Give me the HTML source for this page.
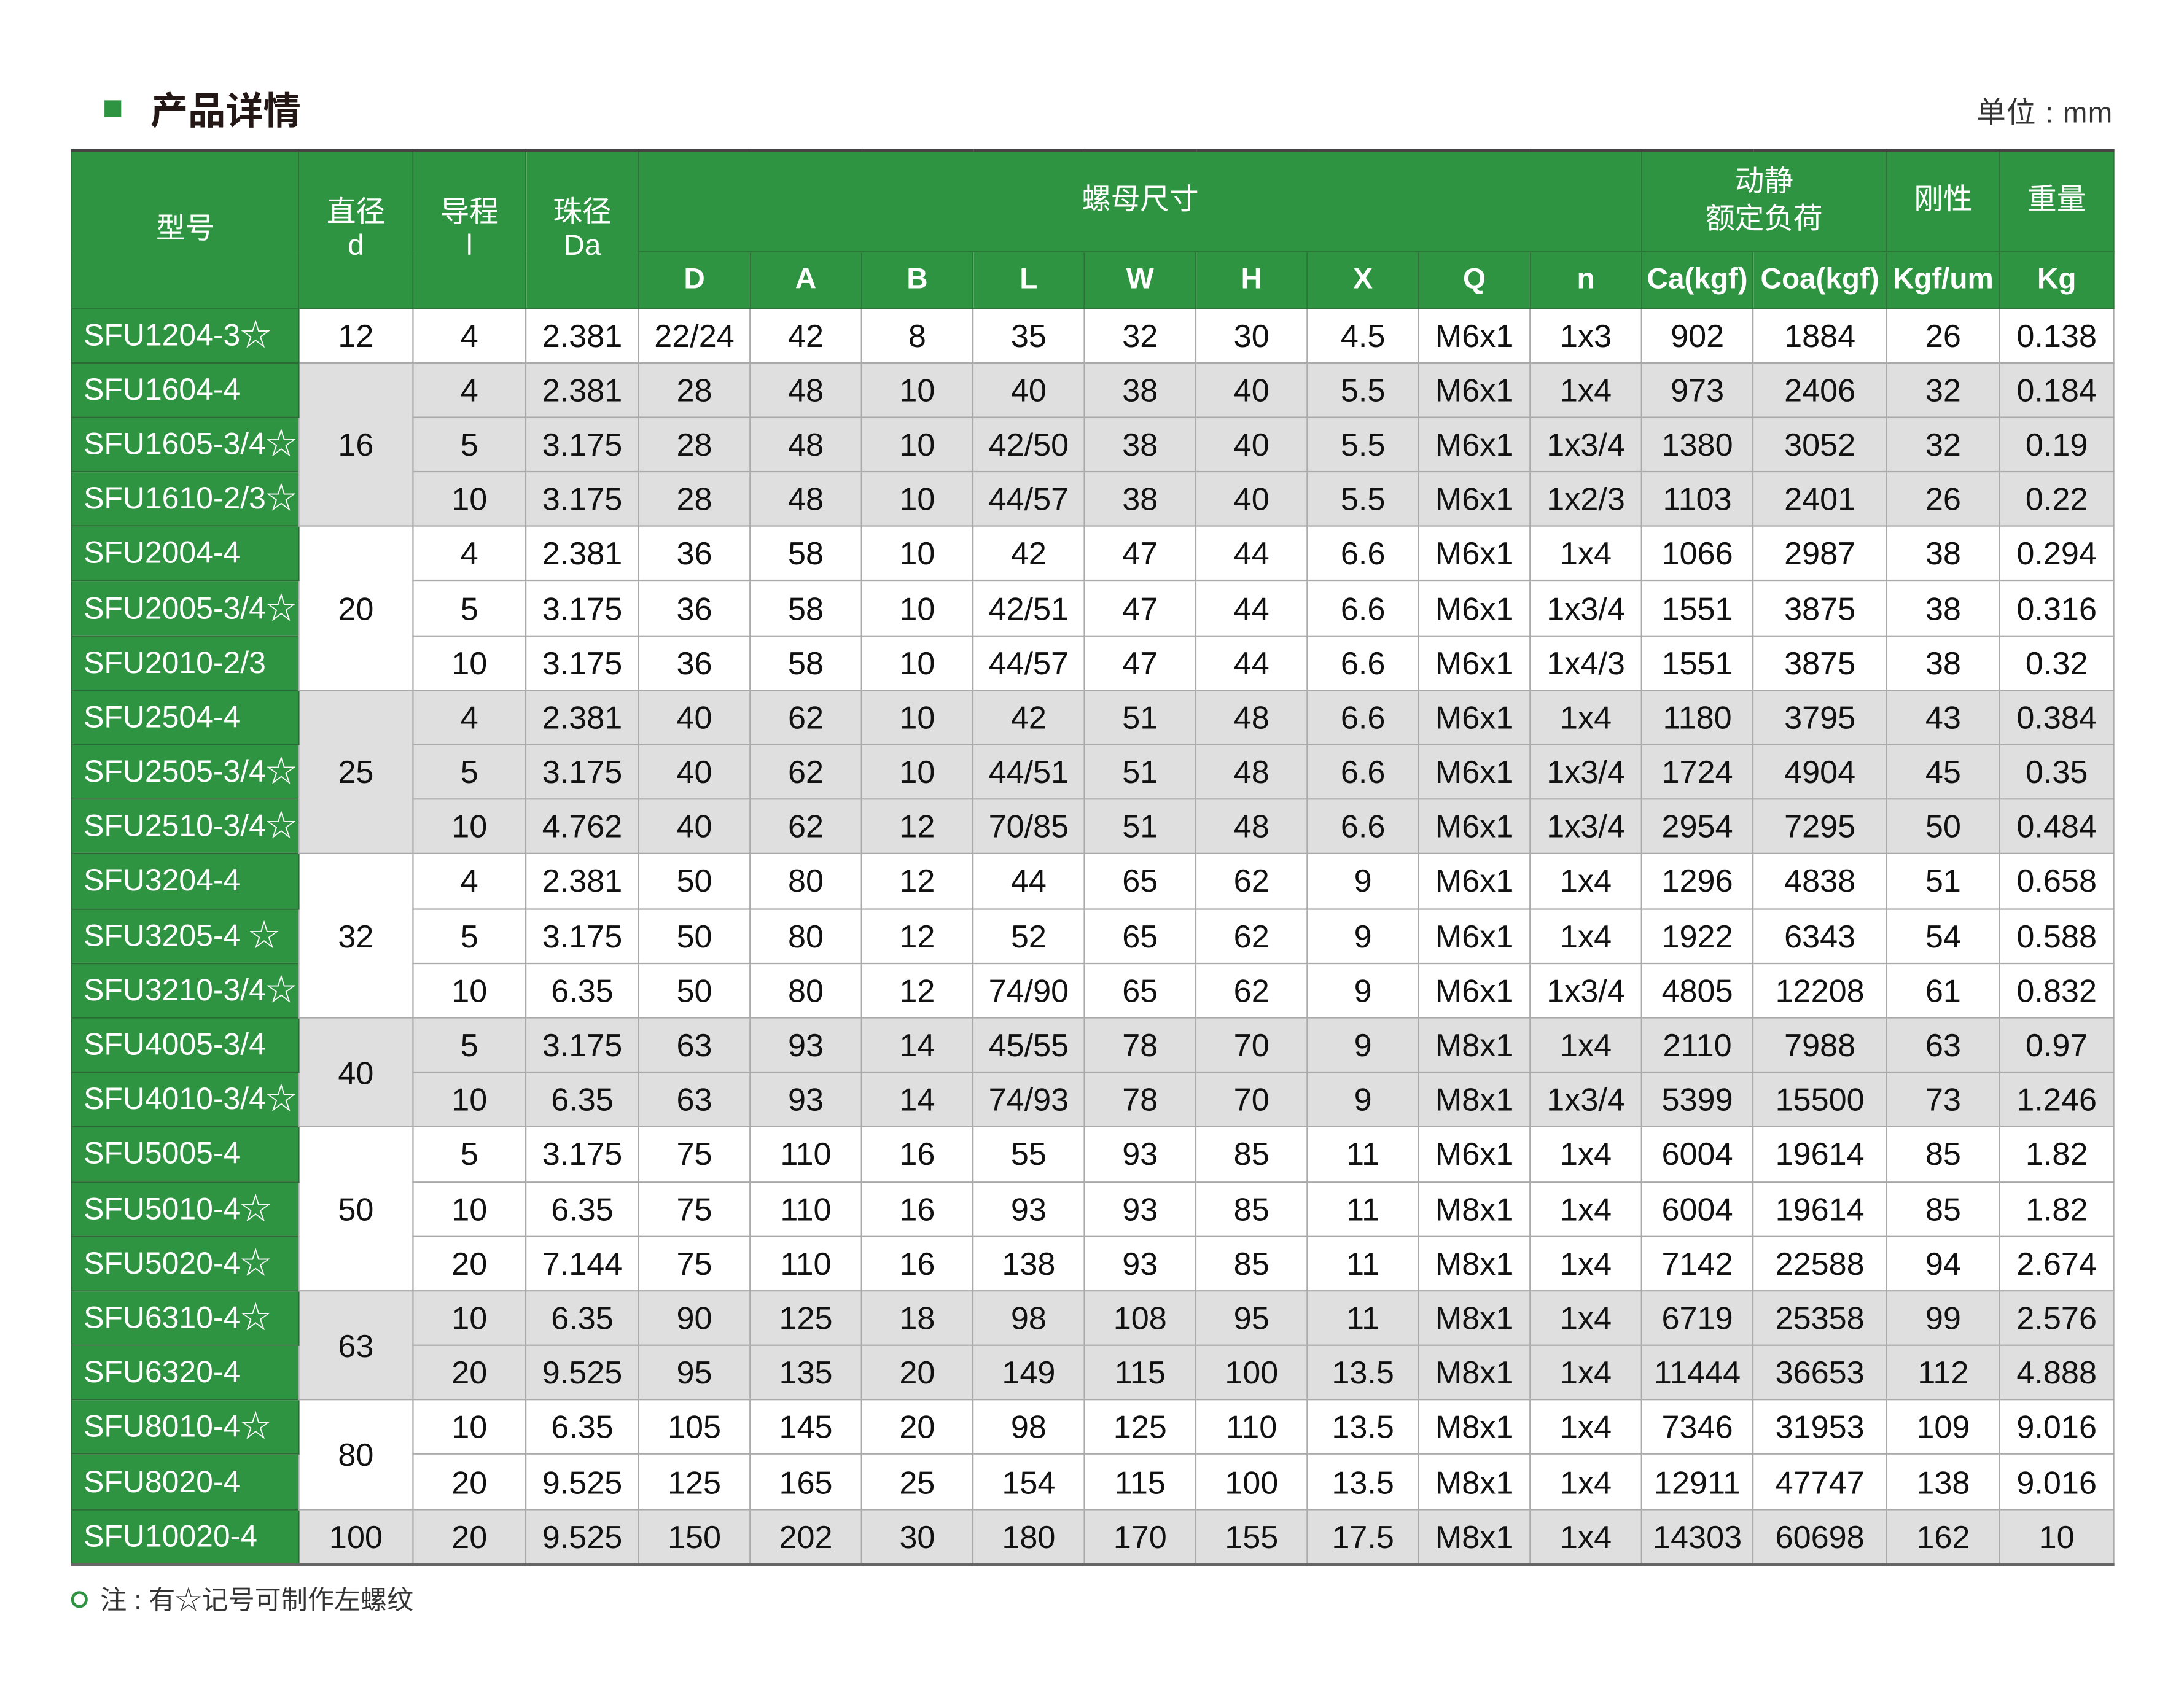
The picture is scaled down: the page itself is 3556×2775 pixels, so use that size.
<!DOCTYPE html>
<html><head><meta charset="utf-8"><style>
html,body{margin:0;padding:0;background:#fff;}
body{width:3556px;height:2775px;overflow:hidden;position:relative;}
#w{position:absolute;left:0;top:0;width:1568px;height:1223px;transform:scale(2.2679,2.269);transform-origin:0 0;}
.sq{position:absolute;left:75px;top:72px;width:12px;height:12px;background:#2f9441;}
.ttl{position:absolute;left:108px;top:60px;font:bold 27px "Noto Sans CJK SC",sans-serif;color:#231815;line-height:36px;}
.unit{position:absolute;right:51px;top:68px;font:21px "Liberation Sans","Noto Sans CJK SC",sans-serif;color:#333;line-height:28px;letter-spacing:0.5px;}
table{position:absolute;left:51px;top:107px;border-collapse:collapse;table-layout:fixed;width:1466px;border-top:2px solid #444;border-right:1px solid #555;border-bottom:2px solid #666;}
td,th{padding:0;text-align:center;font-family:"DejaVu Sans Condensed","Liberation Sans Narrow","Liberation Sans","Noto Sans CJK SC",sans-serif;font-size:22px;font-weight:normal;color:#111;border:1px solid #aaa;height:38.2px;white-space:nowrap;overflow:hidden;line-height:24px;}
td{font-family:"Liberation Sans","Noto Sans CJK SC",sans-serif;font-size:23px;}
th{background:#2f9441;color:#fff;border:1px solid #2a7636;font-family:"Liberation Sans","Noto Sans CJK SC",sans-serif;font-size:21px;}
th.b{font-weight:bold;font-size:21px;}
td.m{background:#2f9441;color:#fff;text-align:left;padding-left:8px;border:1px solid #2a6a34;font-size:22px;}
tr.g td:not(.m){background:#e0dfdf;}
td.wt{background:#fff;}
.note{position:absolute;left:51px;top:1137px;font:19px "Liberation Sans","Noto Sans CJK SC",sans-serif;color:#333;line-height:26px;}
.note i{display:inline-block;width:8px;height:8px;border:2.5px solid #2f9441;border-radius:50%;margin-right:9px;vertical-align:1px;}
</style></head><body><div id="w">
<div class="sq"></div><div class="ttl">产品详情</div>
<div class="unit">单位 : mm</div>
<table>
<colgroup><col style="width:163px"><col style="width:82px"><col style="width:81px"><col style="width:81px"><col style="width:80px"><col style="width:80px"><col style="width:80px"><col style="width:80px"><col style="width:80px"><col style="width:80px"><col style="width:80px"><col style="width:80px"><col style="width:80px"><col style="width:80px"><col style="width:96px"><col style="width:81px"><col style="width:82px"></colgroup>
<tr style="height:72px"><th rowspan="2">型号</th><th rowspan="2">直径<br>d</th><th rowspan="2">导程<br>l</th><th rowspan="2">珠径<br>Da</th><th colspan="9">螺母尺寸</th><th colspan="2" style="line-height:27px">动静<br>额定负荷</th><th>刚性</th><th>重量</th></tr>
<tr style="height:41px"><th class="b">D</th><th class="b">A</th><th class="b">B</th><th class="b">L</th><th class="b">W</th><th class="b">H</th><th class="b">X</th><th class="b">Q</th><th class="b">n</th><th class="b">Ca(kgf)</th><th class="b">Coa(kgf)</th><th class="b">Kgf/um</th><th class="b">Kg</th></tr>
<tr><td class="m">SFU1204-3☆</td><td class="wt">12</td><td>4</td><td>2.381</td><td>22/24</td><td>42</td><td>8</td><td>35</td><td>32</td><td>30</td><td>4.5</td><td>M6x1</td><td>1x3</td><td>902</td><td>1884</td><td>26</td><td>0.138</td></tr>
<tr class="g"><td class="m">SFU1604-4</td><td rowspan="3">16</td><td>4</td><td>2.381</td><td>28</td><td>48</td><td>10</td><td>40</td><td>38</td><td>40</td><td>5.5</td><td>M6x1</td><td>1x4</td><td>973</td><td>2406</td><td>32</td><td>0.184</td></tr>
<tr class="g"><td class="m">SFU1605-3/4☆</td><td>5</td><td>3.175</td><td>28</td><td>48</td><td>10</td><td>42/50</td><td>38</td><td>40</td><td>5.5</td><td>M6x1</td><td>1x3/4</td><td>1380</td><td>3052</td><td>32</td><td>0.19</td></tr>
<tr class="g"><td class="m">SFU1610-2/3☆</td><td>10</td><td>3.175</td><td>28</td><td>48</td><td>10</td><td>44/57</td><td>38</td><td>40</td><td>5.5</td><td>M6x1</td><td>1x2/3</td><td>1103</td><td>2401</td><td>26</td><td>0.22</td></tr>
<tr><td class="m">SFU2004-4</td><td rowspan="3">20</td><td>4</td><td>2.381</td><td>36</td><td>58</td><td>10</td><td>42</td><td>47</td><td>44</td><td>6.6</td><td>M6x1</td><td>1x4</td><td>1066</td><td>2987</td><td>38</td><td>0.294</td></tr>
<tr><td class="m">SFU2005-3/4☆</td><td>5</td><td>3.175</td><td>36</td><td>58</td><td>10</td><td>42/51</td><td>47</td><td>44</td><td>6.6</td><td>M6x1</td><td>1x3/4</td><td>1551</td><td>3875</td><td>38</td><td>0.316</td></tr>
<tr><td class="m">SFU2010-2/3</td><td>10</td><td>3.175</td><td>36</td><td>58</td><td>10</td><td>44/57</td><td>47</td><td>44</td><td>6.6</td><td>M6x1</td><td>1x4/3</td><td>1551</td><td>3875</td><td>38</td><td>0.32</td></tr>
<tr class="g"><td class="m">SFU2504-4</td><td rowspan="3">25</td><td>4</td><td>2.381</td><td>40</td><td>62</td><td>10</td><td>42</td><td>51</td><td>48</td><td>6.6</td><td>M6x1</td><td>1x4</td><td>1180</td><td>3795</td><td>43</td><td>0.384</td></tr>
<tr class="g"><td class="m">SFU2505-3/4☆</td><td>5</td><td>3.175</td><td>40</td><td>62</td><td>10</td><td>44/51</td><td>51</td><td>48</td><td>6.6</td><td>M6x1</td><td>1x3/4</td><td>1724</td><td>4904</td><td>45</td><td>0.35</td></tr>
<tr class="g"><td class="m">SFU2510-3/4☆</td><td>10</td><td>4.762</td><td>40</td><td>62</td><td>12</td><td>70/85</td><td>51</td><td>48</td><td>6.6</td><td>M6x1</td><td>1x3/4</td><td>2954</td><td>7295</td><td>50</td><td>0.484</td></tr>
<tr><td class="m">SFU3204-4</td><td rowspan="3">32</td><td>4</td><td>2.381</td><td>50</td><td>80</td><td>12</td><td>44</td><td>65</td><td>62</td><td>9</td><td>M6x1</td><td>1x4</td><td>1296</td><td>4838</td><td>51</td><td>0.658</td></tr>
<tr><td class="m">SFU3205-4 ☆</td><td>5</td><td>3.175</td><td>50</td><td>80</td><td>12</td><td>52</td><td>65</td><td>62</td><td>9</td><td>M6x1</td><td>1x4</td><td>1922</td><td>6343</td><td>54</td><td>0.588</td></tr>
<tr><td class="m">SFU3210-3/4☆</td><td>10</td><td>6.35</td><td>50</td><td>80</td><td>12</td><td>74/90</td><td>65</td><td>62</td><td>9</td><td>M6x1</td><td>1x3/4</td><td>4805</td><td>12208</td><td>61</td><td>0.832</td></tr>
<tr class="g"><td class="m">SFU4005-3/4</td><td rowspan="2">40</td><td>5</td><td>3.175</td><td>63</td><td>93</td><td>14</td><td>45/55</td><td>78</td><td>70</td><td>9</td><td>M8x1</td><td>1x4</td><td>2110</td><td>7988</td><td>63</td><td>0.97</td></tr>
<tr class="g"><td class="m">SFU4010-3/4☆</td><td>10</td><td>6.35</td><td>63</td><td>93</td><td>14</td><td>74/93</td><td>78</td><td>70</td><td>9</td><td>M8x1</td><td>1x3/4</td><td>5399</td><td>15500</td><td>73</td><td>1.246</td></tr>
<tr><td class="m">SFU5005-4</td><td rowspan="3">50</td><td>5</td><td>3.175</td><td>75</td><td>110</td><td>16</td><td>55</td><td>93</td><td>85</td><td>11</td><td>M6x1</td><td>1x4</td><td>6004</td><td>19614</td><td>85</td><td>1.82</td></tr>
<tr><td class="m">SFU5010-4☆</td><td>10</td><td>6.35</td><td>75</td><td>110</td><td>16</td><td>93</td><td>93</td><td>85</td><td>11</td><td>M8x1</td><td>1x4</td><td>6004</td><td>19614</td><td>85</td><td>1.82</td></tr>
<tr><td class="m">SFU5020-4☆</td><td>20</td><td>7.144</td><td>75</td><td>110</td><td>16</td><td>138</td><td>93</td><td>85</td><td>11</td><td>M8x1</td><td>1x4</td><td>7142</td><td>22588</td><td>94</td><td>2.674</td></tr>
<tr class="g"><td class="m">SFU6310-4☆</td><td rowspan="2">63</td><td>10</td><td>6.35</td><td>90</td><td>125</td><td>18</td><td>98</td><td>108</td><td>95</td><td>11</td><td>M8x1</td><td>1x4</td><td>6719</td><td>25358</td><td>99</td><td>2.576</td></tr>
<tr class="g"><td class="m">SFU6320-4</td><td>20</td><td>9.525</td><td>95</td><td>135</td><td>20</td><td>149</td><td>115</td><td>100</td><td>13.5</td><td>M8x1</td><td>1x4</td><td>11444</td><td>36653</td><td>112</td><td>4.888</td></tr>
<tr><td class="m">SFU8010-4☆</td><td rowspan="2">80</td><td>10</td><td>6.35</td><td>105</td><td>145</td><td>20</td><td>98</td><td>125</td><td>110</td><td>13.5</td><td>M8x1</td><td>1x4</td><td>7346</td><td>31953</td><td>109</td><td>9.016</td></tr>
<tr><td class="m">SFU8020-4</td><td>20</td><td>9.525</td><td>125</td><td>165</td><td>25</td><td>154</td><td>115</td><td>100</td><td>13.5</td><td>M8x1</td><td>1x4</td><td>12911</td><td>47747</td><td>138</td><td>9.016</td></tr>
<tr class="g"><td class="m">SFU10020-4</td><td>100</td><td>20</td><td>9.525</td><td>150</td><td>202</td><td>30</td><td>180</td><td>170</td><td>155</td><td>17.5</td><td>M8x1</td><td>1x4</td><td>14303</td><td>60698</td><td>162</td><td>10</td></tr>
</table>
<div class="note"><i></i>注 : 有☆记号可制作左螺纹</div>
</div></body></html>
